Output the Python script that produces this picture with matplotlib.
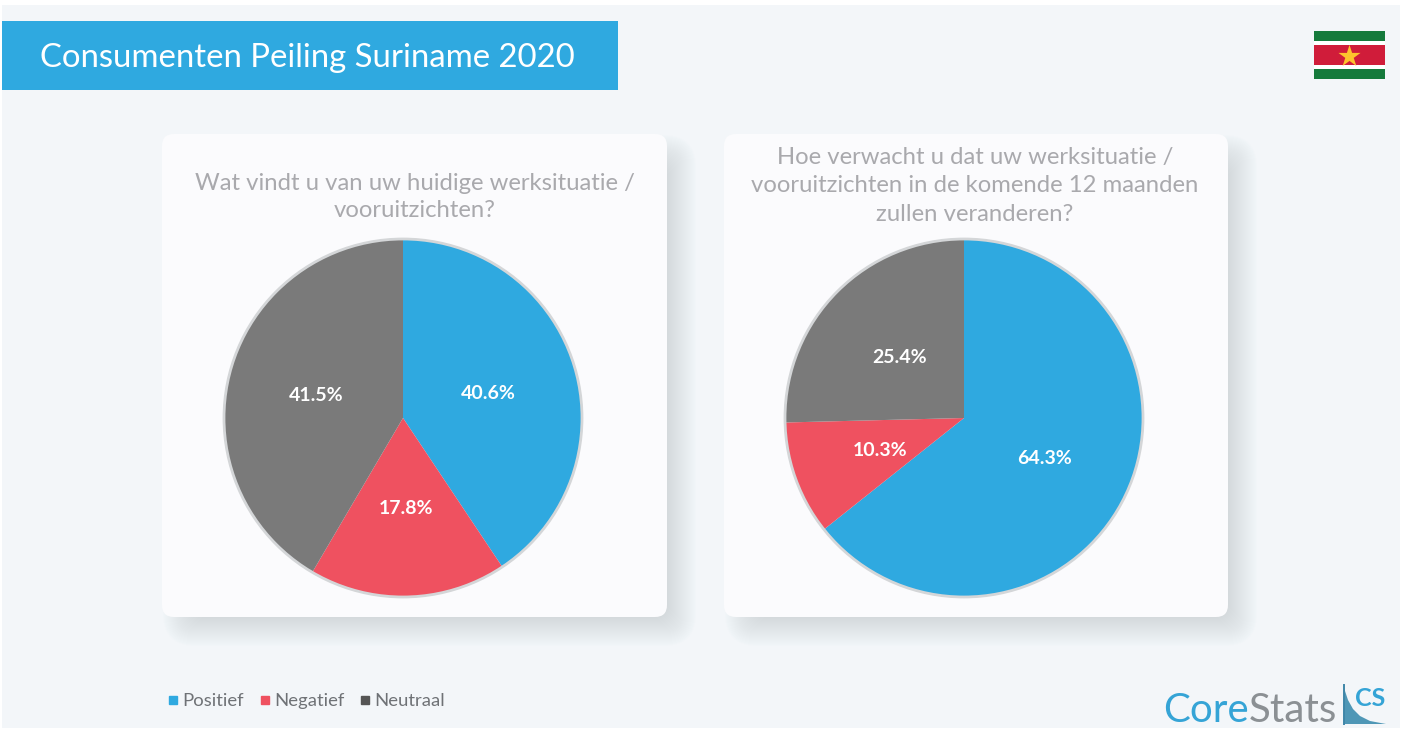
import matplotlib.pyplot as plt
from matplotlib.lines import Line2D
from matplotlib.patches import FancyBboxPatch, Polygon, Rectangle

plt.rcParams["font.family"] = ["Lato", "DejaVu Sans"]

# Data
categories = ["Positief", "Negatief", "Neutraal"]
current_values = [40.6, 17.8, 41.5]
expected_values = [64.3, 10.3, 25.4]
colors = ["#2fa9e0", "#ef5160", "#7a7a7a"]
legend_colors = ["#2fa9e0", "#ef5160", "#555555"]
main_title = "Consumenten Peiling Suriname 2020"
current_title = "Wat vindt u van uw huidige werksituatie /\nvooruitzichten?"
expected_title = (
    "Hoe verwacht u dat uw werksituatie /\n"
    "vooruitzichten in de komende 12 maanden\n"
    "zullen veranderen?"
)

W, H = 1405, 731
fig = plt.figure(figsize=(W / 100, H / 100), dpi=100, facecolor="white")

# Background layer in pixel coordinates
bg = fig.add_axes([0, 0, 1, 1])
bg.set_xlim(0, W)
bg.set_ylim(H, 0)
bg.axis("off")
bg.add_patch(Rectangle((2, 5), 1398, 723, color="#f3f6f9", lw=0))

# Title bar
bg.add_patch(Rectangle((2, 21), 616, 69, color="#2fa9e0", lw=0))
bg.text(40, 58, main_title, color="white", fontsize=23.7, va="center", ha="left")


def draw_card(x, y, w, h):
    # soft shadow built from stacked translucent boxes
    for i in range(36):
        grow = 14 - i
        bg.add_patch(
            FancyBboxPatch(
                (x + 15 - grow, y + 15 - grow),
                w + 2 * grow,
                h + 2 * grow,
                boxstyle="round,pad=0,rounding_size=%.1f" % (18 + max(grow, 0)),
                fc="#9aa5ad",
                ec="none",
                alpha=0.013,
            )
        )
    bg.add_patch(
        FancyBboxPatch(
            (x, y),
            w,
            h,
            boxstyle="round,pad=0,rounding_size=12",
            fc="#fbfbfd",
            ec="none",
        )
    )


draw_card(162, 134, 505, 483)
draw_card(724, 134, 504, 483)

bg.text(415, 197, current_title, color="#a9a9ad", fontsize=17.2, ha="center",
        va="center", linespacing=1.4)
bg.text(975, 186, expected_title, color="#a9a9ad", fontsize=17.2, ha="center",
        va="center", linespacing=1.42)


def draw_pie(cx, cy, r, values):
    ax = fig.add_axes([(cx - r) / W, 1 - (cy + r) / H, 2 * r / W, 2 * r / H])
    wedges, texts, autotexts = ax.pie(
        values,
        colors=colors,
        startangle=90,
        counterclock=False,
        radius=1,
        autopct="%.1f%%",
        pctdistance=0.5,
        wedgeprops={"linewidth": 0},
        textprops={"color": "white", "fontsize": 14, "fontweight": "bold"},
    )
    for t in autotexts:
        t.set_verticalalignment("center_baseline")
    ax.set_xlim(-1, 1)
    ax.set_ylim(-1, 1)
    ax.add_patch(plt.Circle((0, 0), 1.0, fc="none", ec="#d4d6d8", lw=2.0, clip_on=False))
    return ax


draw_pie(403, 418, 179, current_values)
draw_pie(964, 418, 179, expected_values)

# Legend
handles = [
    Line2D([], [], marker="s", ls="", color=c, markersize=6, label=n)
    for c, n in zip(legend_colors, categories)
]
fig.legend(
    handles=handles,
    ncol=3,
    frameon=False,
    loc="center left",
    bbox_to_anchor=(164 / W, 1 - 701 / H),
    fontsize=13.3,
    labelcolor="#6f7276",
    handlelength=1,
    handletextpad=0.0,
    columnspacing=0.62,
    borderpad=0,
    borderaxespad=0,
)

# Suriname flag
bg.add_patch(Rectangle((1314, 31), 71, 48, color="white", lw=0))
bg.add_patch(Rectangle((1314, 31), 71, 10, color="#157a3c", lw=0))
bg.add_patch(Rectangle((1314, 69), 71, 10, color="#157a3c", lw=0))
bg.add_patch(Rectangle((1314, 45), 71, 20, color="#d01c3a", lw=0))
bg.scatter([1349], [55.5], marker="*", s=280, color="#fdc32d", lw=0, zorder=5)

# CoreStats logo
core = bg.text(1163, 710, "Core", color="#35a4d6", fontsize=29, ha="left", va="center")
fig.canvas.draw()
core_end = bg.transData.inverted().transform(
    core.get_window_extent(fig.canvas.get_renderer())
)[1][0]
bg.text(core_end, 710, "Stats", color="#8b9094", fontsize=29, ha="left", va="center")
bg.text(1355, 698, "CS", color="#35a4d6", fontsize=18, fontweight="bold", ha="left", va="center")
bg.plot([1344, 1344], [685, 724], color="#3f86a8", lw=1.4)
bg.add_patch(
    Polygon(
        [(1344, 688), (1348, 700), (1353, 709), (1360, 716), (1370, 721), (1386, 724), (1344, 724)],
        fc="#4f97b6",
        ec="none",
    )
)

fig.savefig("out.png", dpi=100, facecolor=fig.get_facecolor())
